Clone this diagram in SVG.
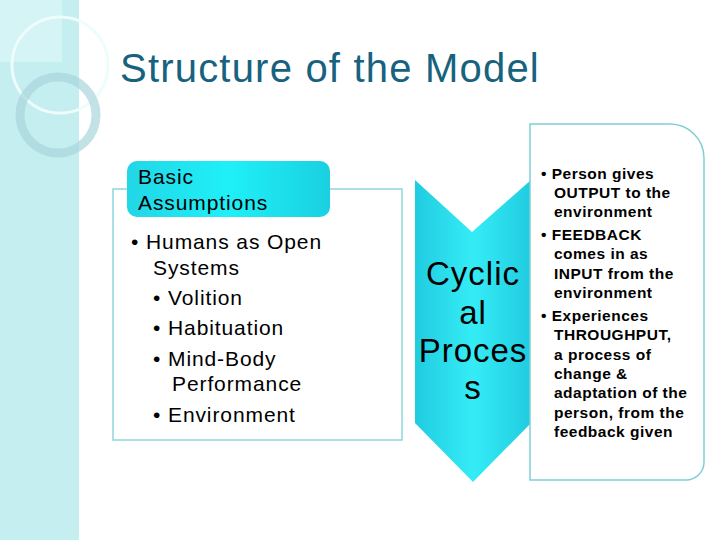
<svg xmlns="http://www.w3.org/2000/svg" width="720" height="540" viewBox="0 0 720 540" font-family="'Liberation Sans', Arimo, Arial, sans-serif">
<defs>
<linearGradient id="cy" x1="0" y1="0" x2="1" y2="0"><stop offset="0" stop-color="#22d6e6"/><stop offset="0.5" stop-color="#1ff0f8"/><stop offset="1" stop-color="#1ad0e0"/></linearGradient>
<linearGradient id="ch" x1="0" y1="0" x2="1" y2="0"><stop offset="0" stop-color="#20cce0"/><stop offset="0.5" stop-color="#35ecf6"/><stop offset="1" stop-color="#20cce0"/></linearGradient>
<style>
text{fill:#000}
.b{font-size:21px;letter-spacing:0.9px}.r{font-size:15.5px;font-weight:bold;letter-spacing:0.5px}
</style>
</defs>
<rect width="720" height="540" fill="#fff"/>
<g id="background">
<rect width="79" height="540" fill="#c4eef0"/>
<rect width="62" height="62" fill="#e0f8f8" opacity="0.6"/>
<circle cx="60" cy="65" r="48" fill="none" stroke="#eefcfc" stroke-width="3"/>
<circle cx="58" cy="115" r="38" fill="none" stroke="#a9d6dc" stroke-width="9" opacity="0.7"/>
</g>
<text x="120" y="82" font-size="40" letter-spacing="1.2" style="fill:#17627e">Structure of the Model</text>
<g id="assumptions">
<rect x="113" y="189" width="289" height="251" fill="#fff" stroke="#8fd6dc" stroke-width="1.5"/>
<rect x="127" y="161" width="203" height="56" rx="10" fill="url(#cy)"/>
<text class="b" x="138" y="184">Basic</text>
<text class="b" x="138" y="210">Assumptions</text>
<text class="b"><tspan x="131" y="249">• Humans as Open</tspan><tspan x="153" y="275">Systems</tspan><tspan x="153" y="305">• Volition</tspan><tspan x="153" y="335">• Habituation</tspan><tspan x="153" y="366">• Mind-Body</tspan><tspan x="172" y="391">Performance</tspan><tspan x="153" y="422">• Environment</tspan></text>
</g>
<g id="cyclic">
<path d="M415 180 L472 232 L531 180 L531 423 L473 482 L415 423 Z" fill="url(#ch)"/>
<g font-size="33" letter-spacing="1" text-anchor="middle"><text x="473" y="285">Cyclic</text><text x="473" y="324">al</text><text x="473" y="362">Proces</text><text x="473" y="399">s</text></g>
</g>
<g id="process">
<path d="M530 124 L670 124 A34 34 0 0 1 704 158 L704 462 A18 18 0 0 1 686 480 L530 480 Z" fill="#fff" stroke="#7fcfd8" stroke-width="1.5"/>
<text class="r"><tspan x="541" y="179">• Person gives</tspan><tspan x="554" y="198">OUTPUT to the</tspan><tspan x="554" y="217">environment</tspan><tspan x="541" y="240">• FEEDBACK</tspan><tspan x="554" y="259">comes in as</tspan><tspan x="554" y="279">INPUT from the</tspan><tspan x="554" y="298">environment</tspan><tspan x="541" y="321">• Experiences</tspan><tspan x="554" y="340">THROUGHPUT,</tspan><tspan x="554" y="360">a process of</tspan><tspan x="554" y="379">change &amp;</tspan><tspan x="554" y="398">adaptation of the</tspan><tspan x="554" y="418">person, from the</tspan><tspan x="554" y="437">feedback given</tspan></text>
</g>
<g id="connectors"/>
</svg>
